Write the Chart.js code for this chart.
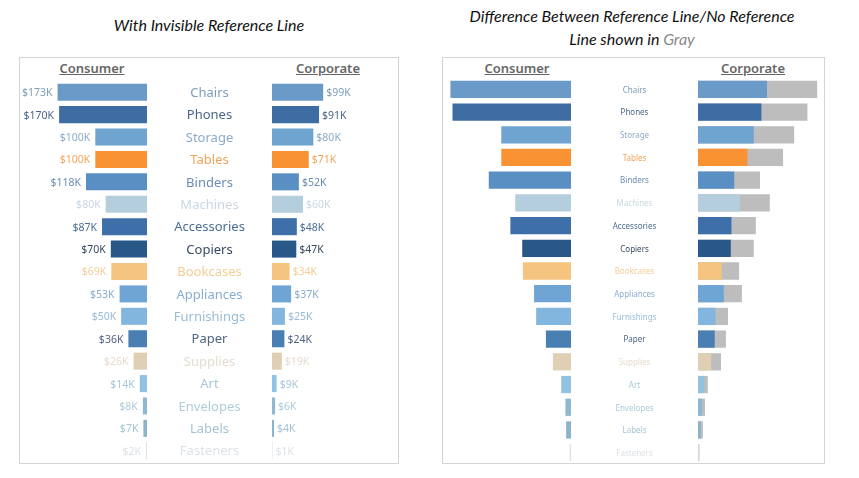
<!DOCTYPE html>
<html>
<head>
<meta charset="utf-8">
<script src="https://cdn.jsdelivr.net/npm/chart.js@4.4.1/dist/chart.umd.min.js"></script>
<style>
  body { margin: 0; background: #fff; width: 859px; height: 478px; position: relative; overflow: hidden; }
  .titre { position: absolute; font-family: Lato, "Open Sans", sans-serif; font-style: italic; font-size: 16px; color: #111; text-align: center; line-height: 23px; }
  .cadre { position: absolute; border: 1.5px solid #d4d4d4; box-sizing: border-box; }
  .entete { position: absolute; font-family: "Noto Sans", sans-serif; font-size: 13px; font-weight: 600; color: #666; text-decoration: underline; transform: translate(-50%, -50%); white-space: nowrap; }
  canvas { position: absolute; }
</style>
</head>
<body>
<div class="titre" style="left:0; width:418px; top:13px;">With Invisible Reference Line</div>
<div class="titre" style="left:432px; width:400px; top:4px;">Difference Between Reference Line/No Reference<br>Line shown in <span style="color:#8a8a8a">Gray</span></div>

<div class="cadre" style="left:19px; top:57px; width:380px; height:407px;"></div>
<div class="cadre" style="left:442px; top:57px; width:383px; height:407px;"></div>

<div class="entete" style="left:92px; top:68px;">Consumer</div>
<div class="entete" style="left:328px; top:68px;">Corporate</div>
<div class="entete" style="left:517px; top:68px;">Consumer</div>
<div class="entete" style="left:753px; top:68px;">Corporate</div>

<canvas id="consoGauche" width="254" height="381" style="left:18px; top:81px;"></canvas>
<canvas id="corpoGauche" width="120" height="381" style="left:272px; top:81px;"></canvas>
<canvas id="consoDroite" width="253" height="386" style="left:445px; top:78px;"></canvas>
<canvas id="corpoDroite" width="124" height="386" style="left:698px; top:78px;"></canvas>

<script>
// Données (ventes en milliers de $)
const categories = ["Chairs", "Phones", "Storage", "Tables", "Binders", "Machines", "Accessories", "Copiers",
  "Bookcases", "Appliances", "Furnishings", "Paper", "Supplies", "Art", "Envelopes", "Labels", "Fasteners"];
const ventesConsumer = [173, 170, 100, 100, 118, 80, 87, 70, 69, 53, 50, 36, 26, 14, 8, 7, 2];
const ventesCorporate = [99, 91, 80, 71, 52, 60, 48, 47, 34, 37, 25, 24, 19, 9, 6, 4, 1];
// longueur des barres Corporate sans ligne de référence (partie grise)
const corporateSansRef = [171, 157, 138, 122, 89, 103, 83, 80, 59, 63, 43, 40, 33, 14, 10, 7, 2];

const couleursBarres = ["#6a9bc8", "#3e6da3", "#6fa3d0", "#f89232", "#5a8fc4", "#b4cedd", "#3f6fa9", "#285887",
  "#f5c47f", "#6fa5d4", "#83b6de", "#4a7fb3", "#dfd0b5", "#92c2e2", "#8fb8d2", "#8bb3cc", "#dde3e8"];
const couleursTextes = ["#7f9dbb", "#4a6688", "#8cabc8", "#f2a45a", "#6a8db3", "#c9d7e1", "#4d6d92", "#384a63",
  "#f4cd98", "#89add0", "#98bcd8", "#4f6483", "#e5dccd", "#a8c6d8", "#aecbd9", "#a5c3d3", "#dde2e6"];
const couleurGris = "#bdbdbd";

// Plugin : étiquettes de valeur au bout des barres
const pluginValeurs = {
  id: "valeurs",
  afterDatasetsDraw(chart, args, opts) {
    if (!opts.afficher) return;
    const ctx = chart.ctx;
    const meta = chart.getDatasetMeta(0);
    const valeurs = chart.data.datasets[0].data;
    ctx.save();
    ctx.font = "10.5px 'Noto Sans', sans-serif";
    ctx.textBaseline = "middle";
    meta.data.forEach((barre, i) => {
      ctx.fillStyle = couleursTextes[i];
      const texte = "$" + valeurs[i] + "K";
      if (opts.cote === "gauche") {
        ctx.textAlign = "right";
        ctx.fillText(texte, barre.x - 5, barre.y + 1);
      } else {
        ctx.textAlign = "left";
        ctx.fillText(texte, barre.x + 3, barre.y + 1);
      }
    });
    ctx.restore();
  }
};

// Plugin : noms des catégories, centrés dans l'axe y
const pluginCategories = {
  id: "categories",
  afterDraw(chart, args, opts) {
    if (!opts.taille) return;
    const ctx = chart.ctx;
    const echelleY = chart.scales.y;
    const xCentre = (echelleY.left + echelleY.right) / 2;
    ctx.save();
    ctx.font = opts.taille + "px 'Noto Sans', sans-serif";
    ctx.textAlign = "center";
    ctx.textBaseline = "middle";
    chart.data.labels.forEach((nom, i) => {
      ctx.fillStyle = couleursTextes[i];
      ctx.fillText(nom, xCentre, echelleY.getPixelForTick(i) + 1);
    });
    ctx.restore();
  }
};

Chart.register(pluginValeurs, pluginCategories);

function creerConsumer(id, echelle, largeurAxe, tailleTexte, etiquettes) {
  const canvas = document.getElementById(id);
  const largeurZone = canvas.width - largeurAxe;
  return new Chart(canvas, {
    type: "bar",
    data: {
      labels: categories,
      datasets: [{
        data: ventesConsumer,
        backgroundColor: couleursBarres,
        barPercentage: 0.76,
        categoryPercentage: 1
      }]
    },
    options: {
      indexAxis: "y",
      responsive: false,
      animation: false,
      layout: { padding: 0 },
      plugins: {
        legend: { display: false },
        tooltip: { enabled: false },
        valeurs: { afficher: etiquettes, cote: "gauche" },
        categories: { taille: tailleTexte }
      },
      scales: {
        x: { reverse: true, min: 0, max: largeurZone / echelle, display: false },
        y: {
          position: "right",
          grid: { display: false },
          border: { display: false },
          ticks: { display: false },
          afterFit: s => { s.width = largeurAxe; }
        }
      }
    }
  });
}

function creerCorporate(id, echelle, etiquettes, avecGris) {
  const canvas = document.getElementById(id);
  const jeux = [{
    data: ventesCorporate,
    backgroundColor: couleursBarres,
    barPercentage: 0.76,
    categoryPercentage: 1,
    grouped: false
  }];
  if (avecGris) {
    jeux.push({
      data: corporateSansRef,
      backgroundColor: couleurGris,
      barPercentage: 0.76,
      categoryPercentage: 1,
      grouped: false
    });
  }
  return new Chart(canvas, {
    type: "bar",
    data: { labels: categories, datasets: jeux },
    options: {
      indexAxis: "y",
      responsive: false,
      animation: false,
      layout: { padding: 0 },
      plugins: {
        legend: { display: false },
        tooltip: { enabled: false },
        valeurs: { afficher: etiquettes, cote: "droite" },
        categories: { taille: 0 }
      },
      scales: {
        x: { min: 0, max: canvas.width / echelle, display: false },
        y: { display: false }
      }
    }
  });
}

// Panneau de gauche : ligne de référence invisible, même échelle des deux côtés
creerConsumer("consoGauche", 0.517, 125, 13, true);
creerCorporate("corpoGauche", 0.517, true, false);

// Panneau de droite : différence montrée en gris
creerConsumer("consoDroite", 0.697, 127, 8, false);
creerCorporate("corpoDroite", 0.697, false, true);
</script>
</body>
</html>
